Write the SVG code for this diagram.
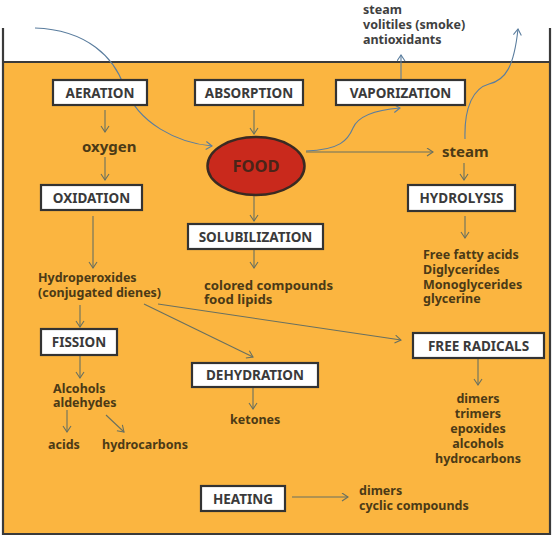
<svg xmlns="http://www.w3.org/2000/svg" width="556" height="544" viewBox="0 0 556 544">
<defs>
<marker id="ah" markerWidth="8" markerHeight="10" refX="7" refY="4.5" orient="auto" markerUnits="userSpaceOnUse">
<path d="M1,0.5 L7,4.5 L1,8.5" fill="none" stroke="#687060" stroke-width="1.1"/>
</marker>
<marker id="ahb" markerWidth="8" markerHeight="10" refX="7" refY="4.5" orient="auto" markerUnits="userSpaceOnUse">
<path d="M1,0.5 L7,4.5 L1,8.5" fill="none" stroke="#5a7d9e" stroke-width="1.1"/>
</marker>
</defs>
<style>
.box rect{fill:#ffffff;stroke:#333333;stroke-width:2.2}
.box text{font-family:"Noto Sans","Liberation Sans",sans-serif;font-weight:bold;font-size:13.5px;fill:#3a3a3a;text-anchor:middle}
.lbl{font-family:"Noto Sans","Liberation Sans",sans-serif;font-weight:bold;font-size:12.5px;fill:#4b3a16}
.big{font-size:15px}
.top{fill:#404040}
.c{text-anchor:middle}
.conn path,.conn line{fill:none;stroke:#687060;stroke-width:1.1;marker-end:url(#ah)}
.conn .blue{stroke:#5a7d9e;marker-end:url(#ahb)}
</style>
<rect x="0" y="0" width="556" height="544" fill="#ffffff"/>
<rect x="3" y="62" width="547" height="472" fill="#fbb540"/>
<path d="M3,28 V534 H550 V28" fill="none" stroke="#3a3a3a" stroke-width="2.2"/>
<line x1="3" y1="62" x2="550" y2="62" stroke="#3a3a3a" stroke-width="2.2"/>

<g id="top-products">
<text class="lbl top"><tspan x="363" y="14">steam</tspan><tspan x="363" y="29">volitiles (smoke)</tspan><tspan x="363" y="44">antioxidants</tspan></text>
</g>

<g class="conn">
<path class="blue" d="M35,28 C88,30 114,58 124,86 C138,124 178,143 212,146"/>
<path class="blue" d="M306,151 C340,150 348,140 353,128 C358,116 375,110 400,108"/>
<path class="blue" d="M465,139 C464,106 474,88 489,84 C506,80 514,66 518,29"/>
<line x1="401" y1="80" x2="401" y2="55" class="blue"/>
<line x1="105" y1="110" x2="105" y2="132"/>
<line x1="105" y1="157" x2="105" y2="180"/>
<line x1="254" y1="110" x2="254" y2="134"/>
<line x1="306" y1="152" x2="433" y2="152"/>
<line x1="464" y1="163" x2="464" y2="180"/>
<line x1="254" y1="196" x2="254" y2="221"/>
<line x1="93" y1="216" x2="93" y2="268"/>
<line x1="254" y1="250" x2="254" y2="268"/>
<line x1="465" y1="216" x2="465" y2="238"/>
<line x1="80" y1="305" x2="80" y2="327"/>
<line x1="144" y1="304" x2="253" y2="357"/>
<line x1="158" y1="304" x2="401" y2="340"/>
<line x1="80" y1="356" x2="80" y2="378"/>
<line x1="67" y1="410" x2="67" y2="432"/>
<line x1="106" y1="415" x2="124" y2="432"/>
<line x1="253" y1="388" x2="253" y2="409"/>
<line x1="478" y1="359" x2="478" y2="385"/>
<line x1="292" y1="497" x2="348" y2="497"/>
</g>

<g id="aeration" class="box"><rect x="53" y="80" width="94" height="25"/><text x="100" y="97.5">AERATION</text></g>
<g id="absorption" class="box"><rect x="195" y="80" width="108" height="25"/><text x="249" y="97.5">ABSORPTION</text></g>
<g id="vaporization" class="box"><rect x="336" y="80" width="129" height="25"/><text x="400.5" y="97.5">VAPORIZATION</text></g>
<g id="food">
<ellipse cx="256" cy="166" rx="48.5" ry="29" fill="#c9291c" stroke="#3a2a22" stroke-width="2.5"/>
<text x="256" y="172" style="font-family:'Noto Sans','Liberation Sans',sans-serif;font-weight:bold;font-size:16.5px;fill:#4a2418;text-anchor:middle">FOOD</text>
</g>
<g id="oxygen"><text class="lbl big" x="82" y="152">oxygen</text></g>
<g id="steam"><text class="lbl big" x="442" y="157">steam</text></g>
<g id="oxidation" class="box"><rect x="41" y="185" width="101" height="25"/><text x="91.5" y="202.5">OXIDATION</text></g>
<g id="hydrolysis" class="box"><rect x="408" y="185" width="107" height="26"/><text x="461.5" y="203">HYDROLYSIS</text></g>
<g id="solubilization" class="box"><rect x="188" y="224" width="135" height="25"/><text x="255.5" y="241.5">SOLUBILIZATION</text></g>
<g id="fatty">
<text class="lbl"><tspan x="423" y="259">Free fatty acids</tspan><tspan x="423" y="274">Diglycerides</tspan><tspan x="423" y="289">Monoglycerides</tspan><tspan x="423" y="303">glycerine</tspan></text>
</g>
<g id="hydroperoxides">
<text class="lbl"><tspan x="38" y="282">Hydroperoxides</tspan><tspan x="38" y="297">(conjugated dienes)</tspan></text>
</g>
<g id="colored">
<text class="lbl" style="font-size:13.2px"><tspan x="204" y="290">colored compounds</tspan><tspan x="204" y="304">food lipids</tspan></text>
</g>
<g id="fission" class="box"><rect x="41" y="329" width="76" height="26"/><text x="79" y="347">FISSION</text></g>
<g id="free-radicals" class="box"><rect x="413" y="333" width="131" height="25"/><text x="478.5" y="350.5">FREE RADICALS</text></g>
<g id="dehydration" class="box"><rect x="192" y="363" width="126" height="24"/><text x="255" y="380">DEHYDRATION</text></g>
<g id="alcohols">
<text class="lbl"><tspan x="53" y="393">Alcohols</tspan><tspan x="53" y="407">aldehydes</tspan></text>
</g>
<g id="acids"><text class="lbl" x="48" y="449">acids</text></g>
<g id="hydrocarbons"><text class="lbl" x="102" y="449">hydrocarbons</text></g>
<g id="ketones"><text class="lbl" x="230" y="424">ketones</text></g>
<g id="radical-products">
<text class="lbl c"><tspan x="478" y="403">dimers</tspan><tspan x="478" y="418">trimers</tspan><tspan x="478" y="433">epoxides</tspan><tspan x="478" y="448">alcohols</tspan><tspan x="478" y="463">hydrocarbons</tspan></text>
</g>
<g id="heating" class="box"><rect x="201" y="486" width="84" height="25"/><text x="243" y="503.5">HEATING</text></g>
<g id="heating-products">
<text class="lbl"><tspan x="359" y="495">dimers</tspan><tspan x="359" y="510">cyclic compounds</tspan></text>
</g>
</svg>
